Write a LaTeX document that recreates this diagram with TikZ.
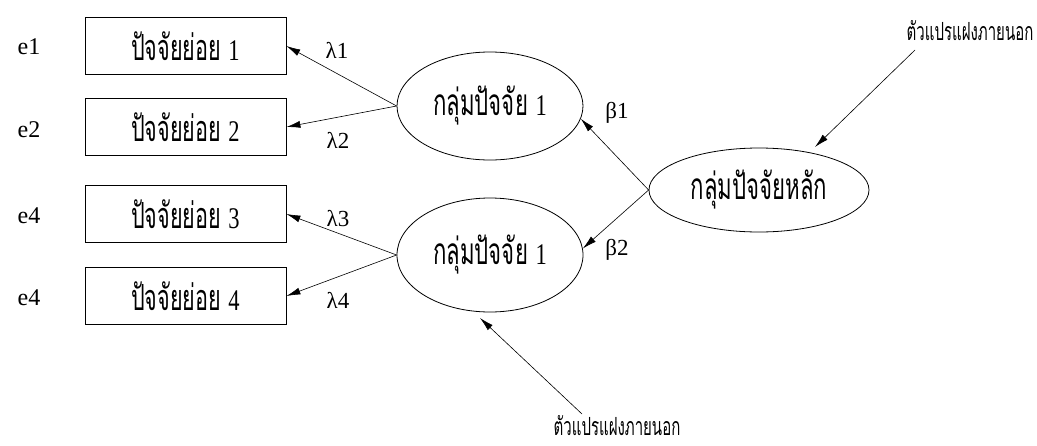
\documentclass[tikz,border=0pt]{standalone}
\usepackage{fontspec}
\setmainfont{Liberation Serif}
\newfontfamily\thai[Script=Thai,FakeStretch=0.6]{Loma}
\newfontfamily\numf[FakeStretch=0.75]{Liberation Serif}
\newcommand{\dg}[1]{{\numf\fontsize{30}{30}\selectfont #1}}
\usetikzlibrary{arrows.meta,shapes.geometric}
\begin{document}
\begin{tikzpicture}[x=1pt,y=-1pt,
  box/.style={draw, line width=0.8pt, minimum width=201pt, minimum height=57pt, inner sep=0pt, font=\thai\fontsize{36}{36}\selectfont},
  lat/.style={draw, ellipse, line width=0.8pt, inner sep=0pt, font=\thai\fontsize{37}{37}\selectfont},
  arr/.style={-{Latex[length=14pt,width=7pt]}, line width=0.6pt},
  lab/.style={font=\fontsize{24}{24}\selectfont, inner sep=0pt},
  coef/.style={font=\fontsize{23}{23}\selectfont, inner sep=0pt},
  exo/.style={font=\thai\fontsize{25}{25}\selectfont, inner sep=0pt}]
\useasboundingbox (0,0) rectangle (1037,445);
% measured variables
\node[box] (b1) at (185.5,46) {ปัจจัยย่อย \dg{1}};
\node[box] (b2) at (185.5,127) {ปัจจัยย่อย \dg{2}};
\node[box] (b3) at (185.5,214) {ปัจจัยย่อย \dg{3}};
\node[box] (b4) at (185.5,296) {ปัจจัยย่อย \dg{4}};
% error labels
\node[lab] (e1) at (29,47) {e1};
\node[lab] (e2) at (29,130) {e2};
\node[lab] (e3) at (29,216) {e4};
\node[lab] (e4) at (29,298) {e4};
% latent variables
\node[lat, minimum width=186pt, minimum height=108pt] (l1) at (490,106) {กลุ่มปัจจัย \dg{1}};
\node[lat, minimum width=186pt, minimum height=114pt] (l2) at (490,255) {กลุ่มปัจจัย \dg{1}};
\node[lat, minimum width=220pt, minimum height=84pt] (m) at (759,190) {กลุ่มปัจจัยหลัก};
% exogenous labels
\node[exo] (x1) at (970,31) {ตัวแปรแฝงภายนอก};
\node[exo] (x2) at (617,426) {ตัวแปรแฝงภายนอก};
\coordinate (s1) at (915,50);
\coordinate (t1) at (815,147);
\coordinate (s2) at (582,414);
\coordinate (t2) at (480,318);
% loadings
\draw[arr] (l1.west) -- (b1.east);
\draw[arr] (l1.west) -- (b2.east);
\draw[arr] (l2.west) -- (b3.east);
\draw[arr] (l2.west) -- (b4.east);
\node[coef] (c1) at (337,50) {λ1};
\node[coef] (c2) at (338,140) {λ2};
\node[coef] (c3) at (338,219) {λ3};
\node[coef] (c4) at (338,300) {λ4};
% structural paths
\draw[arr] (m.west) -- (l1.-8);
\draw[arr] (m.west) -- (l2.4);
\node[coef] (bt1) at (617,113) {β1};
\node[coef] (bt2) at (617,250) {β2};
% exogenous arrows
\draw[arr] (s1) -- (t1);
\draw[arr] (s2) -- (t2);
\end{tikzpicture}
\end{document}
